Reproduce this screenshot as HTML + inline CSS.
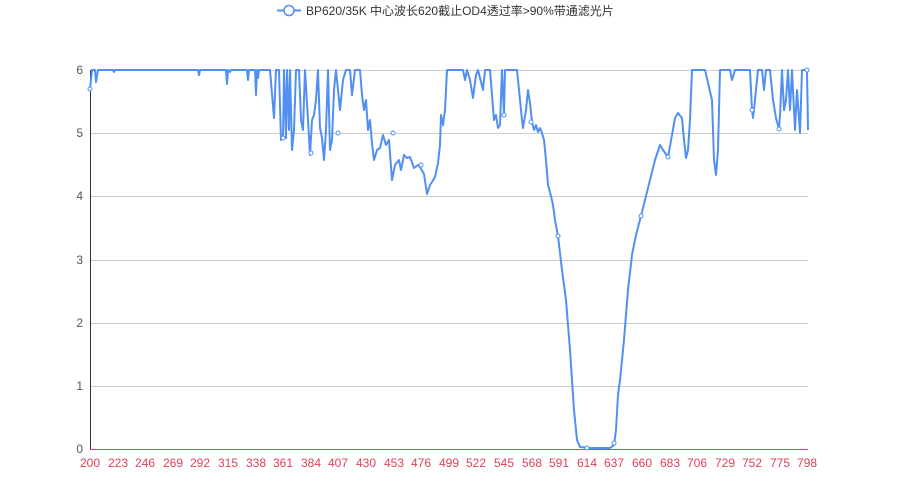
<!DOCTYPE html>
<html><head><meta charset="utf-8"><style>body{margin:0;background:#fff}svg{display:block}text{font-family:"Liberation Sans","Noto Sans CJK SC",sans-serif}</style></head><body>
<svg width="900" height="500" xmlns="http://www.w3.org/2000/svg">
<g stroke="#ccc" stroke-width="1">
<line x1="90" y1="70.5" x2="808" y2="70.5"/><line x1="90" y1="133.5" x2="808" y2="133.5"/><line x1="90" y1="196.5" x2="808" y2="196.5"/><line x1="90" y1="260.5" x2="808" y2="260.5"/><line x1="90" y1="323.5" x2="808" y2="323.5"/><line x1="90" y1="386.5" x2="808" y2="386.5"/>
</g>
<line x1="90.5" y1="70" x2="90.5" y2="449" stroke="#333"/>
<line x1="90" y1="449.5" x2="808" y2="449.5" stroke="#e0405a"/>
<g font-size="12" fill="#555" text-anchor="end">
<text x="83" y="74">6</text><text x="83" y="137">5</text><text x="83" y="200">4</text><text x="83" y="264">3</text><text x="83" y="327">2</text><text x="83" y="390">1</text><text x="83" y="453">0</text>
</g>
<g font-size="12" fill="#e0405a" text-anchor="middle">
<text x="90" y="467">200</text><text x="118" y="467">223</text><text x="145" y="467">246</text><text x="173" y="467">269</text><text x="200" y="467">292</text><text x="228" y="467">315</text><text x="256" y="467">338</text><text x="283" y="467">361</text><text x="311" y="467">384</text><text x="338" y="467">407</text><text x="366" y="467">430</text><text x="394" y="467">453</text><text x="421" y="467">476</text><text x="449" y="467">499</text><text x="476" y="467">522</text><text x="504" y="467">545</text><text x="532" y="467">568</text><text x="559" y="467">591</text><text x="587" y="467">614</text><text x="614" y="467">637</text><text x="642" y="467">660</text><text x="670" y="467">683</text><text x="697" y="467">706</text><text x="725" y="467">729</text><text x="752" y="467">752</text><text x="780" y="467">775</text><text x="807" y="467">798</text>
</g>
<polyline fill="none" stroke="#5190f0" stroke-width="2" stroke-linejoin="round" points="90,89 92,70 95,70 96,82 98,70 113,70 114,72 115,70 187,70 198,70 199,75 200,70 226,70 227,84 228,70 230,72 231,70 247,70 248,80 249,70 255,70 256,95 257,70 258,78 259,70 270,70 274,118 276,70 279,70 281,140 283,138 284,70 286,138 287,70 289,130 290,70 292,150 294,130 296,70 299,70 301,120 303,130 305,70 308,120 310,155 312,120 314,115 316,100 318,70 320,128 322,138 324,160 326,130 328,70 330,150 332,140 334,90 336,70 340,110 343,80 346,70 350,70 352,95 355,70 360,70 362,95 364,110 366,100 368,130 370,120 372,143 374,160 377,150 380,148 383,135 386,145 389,140 392,180 395,165 399,160 401,170 404,155 407,158 410,157 414,168 418,165 420,167 424,174 427,194 430,185 432,182 435,177 438,163 440,145 441,115 443,125 445,110 447,70 463,70 465,80 467,70 470,80 473,98 476,75 478,70 483,90 485,70 490,70 494,120 496,115 498,128 500,125 502,70 504,115 505,70 517,70 520,100 522,120 523,128 526,110 528,90 530,103 532,122 534,130 536,125 538,132 540,128 542,133 544,140 546,160 548,185 551,196 553,205 555,220 558,236 562,270 566,300 570,350 574,410 577,440 580,447 590,448 600,448 610,448 614,445 616,430 618,395 620,380 624,340 628,290 632,255 636,235 641,216 645,200 650,180 655,160 660,145 663,150 668,157 672,135 675,118 678,113 682,118 684,140 686,158 688,150 690,120 692,70 695,70 705,70 712,100 714,160 716,175 718,150 720,70 730,70 732,80 735,70 740,70 750,70 752,110 753,118 755,100 758,70 762,70 764,90 766,70 770,70 773,100 776,118 779,129 780,115 782,70 784,110 786,100 788,70 790,110 792,70 795,130 797,90 800,133 802,70 807,70 808,130"/>
<g fill="#fff" stroke="#5190f0" stroke-width="1">
<circle cx="90" cy="89" r="2"/><circle cx="283" cy="138" r="2"/><circle cx="311" cy="153" r="2"/><circle cx="338" cy="133" r="2"/><circle cx="393" cy="133" r="2"/><circle cx="421" cy="165" r="2"/><circle cx="504" cy="115" r="2"/><circle cx="531" cy="122" r="2"/><circle cx="558" cy="236" r="2"/><circle cx="587" cy="448" r="2"/><circle cx="614" cy="443" r="2"/><circle cx="641" cy="216" r="2"/><circle cx="668" cy="157" r="2"/><circle cx="752" cy="110" r="2"/><circle cx="779" cy="129" r="2"/><circle cx="807" cy="70" r="2"/>
</g>
<line x1="277" y1="10.5" x2="301" y2="10.5" stroke="#5190f0" stroke-width="2"/>
<circle cx="289" cy="10.5" r="5" fill="#fff" stroke="#5190f0" stroke-width="1.5"/>
<text x="306" y="15" font-size="12" fill="#333">BP620/35K 中心波长620截止OD4透过率&gt;90%带通滤光片</text>
</svg>
</body></html>
